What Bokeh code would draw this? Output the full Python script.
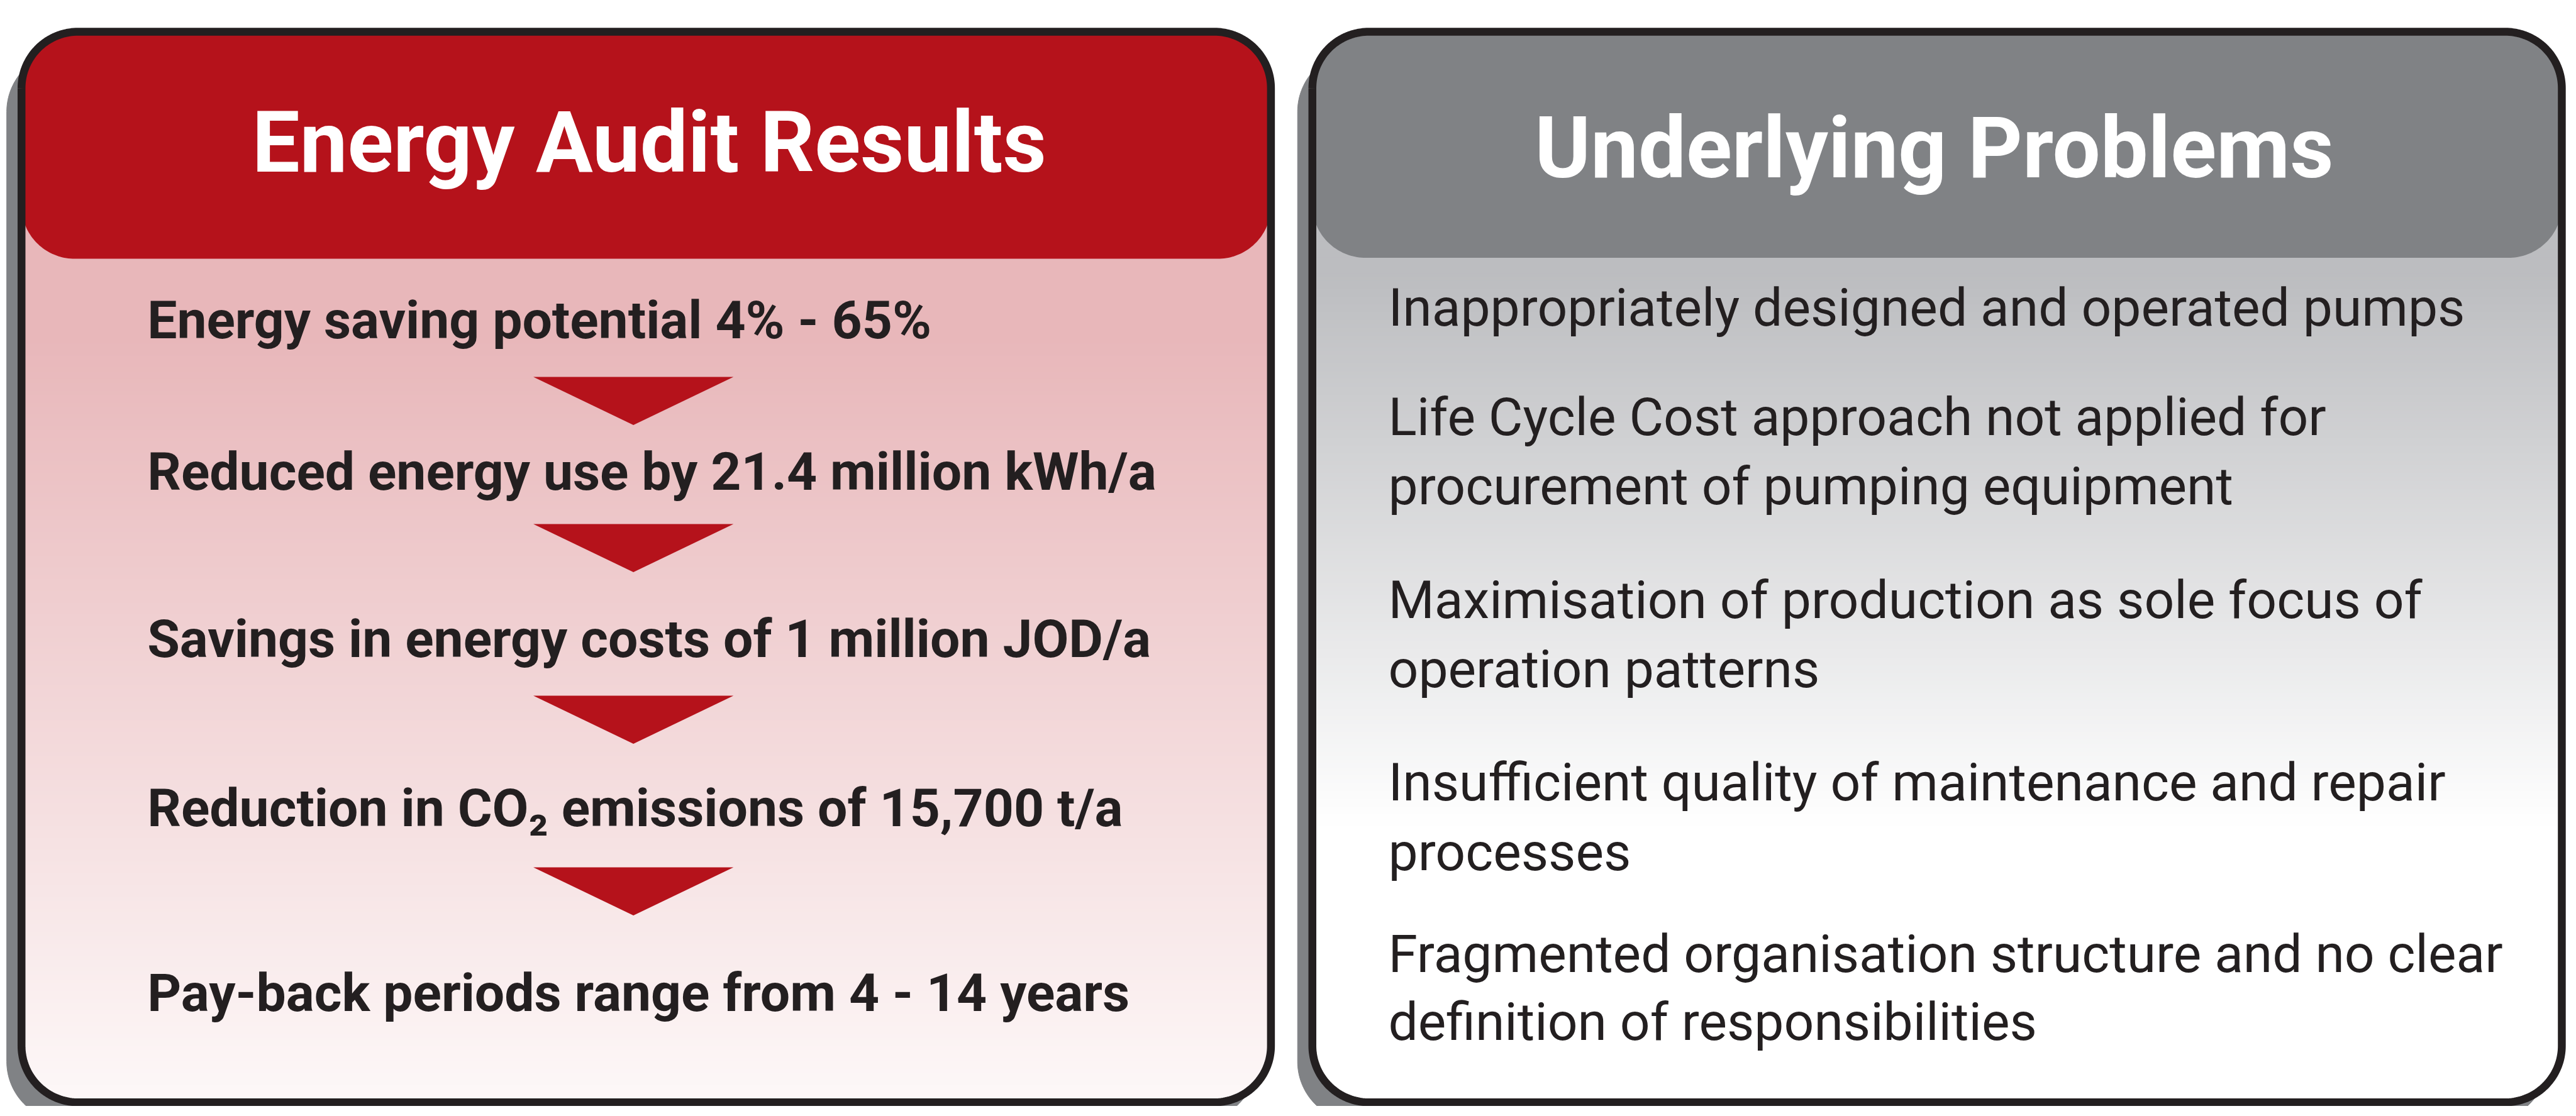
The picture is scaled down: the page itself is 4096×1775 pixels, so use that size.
import numpy as np
from bokeh.plotting import figure
from bokeh.models import Range1d
from bokeh.core.properties import value
from bokeh.embed import file_html
from bokeh.resources import INLINE

# ---------------- content ----------------
left_title = "Energy Audit Results"
right_title = "Underlying Problems"

left_items = [
    "Energy saving potential 4% - 65%",
    "Reduced energy use by 21.4 million kWh/a",
    "Savings in energy costs of 1 million JOD/a",
    "Reduction in CO\u2082 emissions of 15,700 t/a",
    "Pay-back periods range from 4 - 14 years",
]
left_baselines = [687, 996, 1337, 1682, 2058]
arrow_tops = [768, 1068, 1418, 1768]

right_lines = [
    "Inappropriately designed and operated pumps",
    "Life Cycle Cost approach not applied for",
    "procurement of pumping equipment",
    "Maximisation of production as sole focus of",
    "operation patterns",
    "Insufficient quality of maintenance and repair",
    "processes",
    "Fragmented organisation structure and no clear",
    "definition of responsibilities",
]
right_baselines = [662, 885, 1025, 1257, 1398, 1629, 1772, 1979, 2118]

# ---------------- styling / layout (reference pixel space) ----------------
REF_W, REF_H = 5204, 2255
W, H = 4080, 1759
S = (W / REF_W + H / REF_H) / 2.0

RED = "#B5121B"
GREY = "#808285"
BORDER = "#231F20"
SHADOW = "#808285"
TEXT = "#231F20"
FONT = "Roboto"
BASE_FIX = 0.32  # baseline correction (fraction of em) for svg text placement

TITLE_EM = 173
LEFT_EM = 107
RIGHT_EM = 108

LP = dict(x0=43, x1=2577, y0=64, y1=2247, r=115)
RP = dict(x0=2661, x1=5195, y0=64, y1=2247, r=115)
SH_DX, SH_DY = -30, 40
HEAD_BOTTOM = {"L": 527, "R": 525}
HEAD_R_BOTTOM = 108


def rrect(x0, y0, x1, y1, rt, rb=None, n=40):
    if rb is None:
        rb = rt
    xs, ys = [], []
    corners = [
        (x0 + rt, y0 + rt, rt, 180, 270),
        (x1 - rt, y0 + rt, rt, 270, 360),
        (x1 - rb, y1 - rb, rb, 0, 90),
        (x0 + rb, y1 - rb, rb, 90, 180),
    ]
    for cx, cy, r, a0, a1 in corners:
        t = np.radians(np.linspace(a0, a1, n))
        xs.extend(cx + r * np.cos(t))
        ys.extend(cy + r * np.sin(t))
    return list(xs), list(ys)


def xext(y, x0, x1, y0, y1, r):
    if y < y0 + r:
        d = y0 + r - y
    elif y > y1 - r:
        d = y - (y1 - r)
    else:
        d = 0.0
    d = min(d, r)
    dx = r - np.sqrt(max(r * r - d * d, 0.0))
    return x0 + dx, x1 - dx


def hexc(c):
    return "#%02x%02x%02x" % tuple(int(round(v)) for v in c)


def gradient_stripes(P, ystart, g0, g1, c0, c1, step=8):
    xs_list, ys_list, cols = [], [], []
    y = ystart
    while y < P["y1"]:
        ya = y
        yb = min(y + step + 1.5, P["y1"])
        ym = (ya + yb) / 2
        f = np.clip((ym - g0) / (g1 - g0), 0, 1)
        col = [c0[i] + f * (c1[i] - c0[i]) for i in range(3)]
        la, ra = xext(ya, P["x0"], P["x1"], P["y0"], P["y1"], P["r"])
        lb, rb = xext(yb, P["x0"], P["x1"], P["y0"], P["y1"], P["r"])
        xs_list.append([la, ra, rb, lb])
        ys_list.append([ya, ya, yb, yb])
        cols.append(hexc(col))
        y += step
    return xs_list, ys_list, cols


p = figure(width=W, height=H, output_backend="svg", toolbar_location=None,
           x_range=Range1d(0, REF_W), y_range=Range1d(REF_H, 0),
           min_border=0, x_axis_location=None, y_axis_location=None)
p.grid.visible = False
p.outline_line_color = None
p.background_fill_color = "white"
p.border_fill_color = "white"

# shadows
for P in (LP, RP):
    sx, sy = rrect(P["x0"] + SH_DX, P["y0"] + SH_DY, P["x1"] + SH_DX, P["y1"] + SH_DY, P["r"] + 8)
    p.patch(sx, sy, fill_color=SHADOW, line_color=SHADOW, line_width=1)

# body gradients
for P, key, c0, c1, g0, g1 in (
    (LP, "L", (232, 183, 186), (253, 248, 248), 690, 2247),
    (RP, "R", (188, 189, 192), (255, 255, 255), 560, 1690),
):
    bx, by = rrect(P["x0"], P["y0"], P["x1"], P["y1"], P["r"])
    p.patch(bx, by, fill_color=hexc(c0), line_color=None)
    xs_l, ys_l, cols = gradient_stripes(P, 380, g0, g1, c0, c1)
    p.patches(xs_l, ys_l, fill_color=cols, line_color=None)

# headers
for P, key, col in ((LP, "L", RED), (RP, "R", GREY)):
    hx, hy = rrect(P["x0"], P["y0"], P["x1"], HEAD_BOTTOM[key], P["r"], HEAD_R_BOTTOM)
    p.patch(hx, hy, fill_color=col, line_color=None)

# borders
for P in (LP, RP):
    ox, oy = rrect(P["x0"], P["y0"], P["x1"], P["y1"], P["r"])
    ox.append(ox[0]); oy.append(oy[0])
    p.line(ox, oy, line_color=BORDER, line_width=16 * S, line_join="round")

# arrows
ARROW_CX, ARROW_HW, ARROW_H = 1284, 203, 98
axs = [[ARROW_CX - ARROW_HW, ARROW_CX + ARROW_HW, ARROW_CX] for t in arrow_tops]
ays = [[t, t, t + ARROW_H] for t in arrow_tops]
p.patches(axs, ays, fill_color=RED, line_color=None)


def fix(ys, em):
    return [y - BASE_FIX * em for y in ys]


# titles
p.text(x=[1316], y=fix([346], TITLE_EM), text=[left_title], text_font=value(FONT),
       text_font_style="bold", text_font_size="%dpx" % round(TITLE_EM * S),
       text_color="white", text_align="center", text_baseline="alphabetic")
p.text(x=[3922], y=fix([357], TITLE_EM), text=[right_title], text_font=value(FONT),
       text_font_style="bold", text_font_size="%dpx" % round(TITLE_EM * S),
       text_color="white", text_align="center", text_baseline="alphabetic")

# left items
p.text(x=[298] * len(left_items), y=fix(left_baselines, LEFT_EM), text=left_items,
       text_font=value(FONT), text_font_style="bold",
       text_font_size="%dpx" % round(LEFT_EM * S), text_color=TEXT,
       text_align="left", text_baseline="alphabetic")

# right lines
p.text(x=[2815] * len(right_lines), y=fix(right_baselines, RIGHT_EM), text=right_lines,
       text_font=value(FONT), text_font_style="normal",
       text_font_size="%dpx" % round(RIGHT_EM * S), text_color=TEXT,
       text_align="left", text_baseline="alphabetic")

open("out.html", "w").write(file_html(p, INLINE))
